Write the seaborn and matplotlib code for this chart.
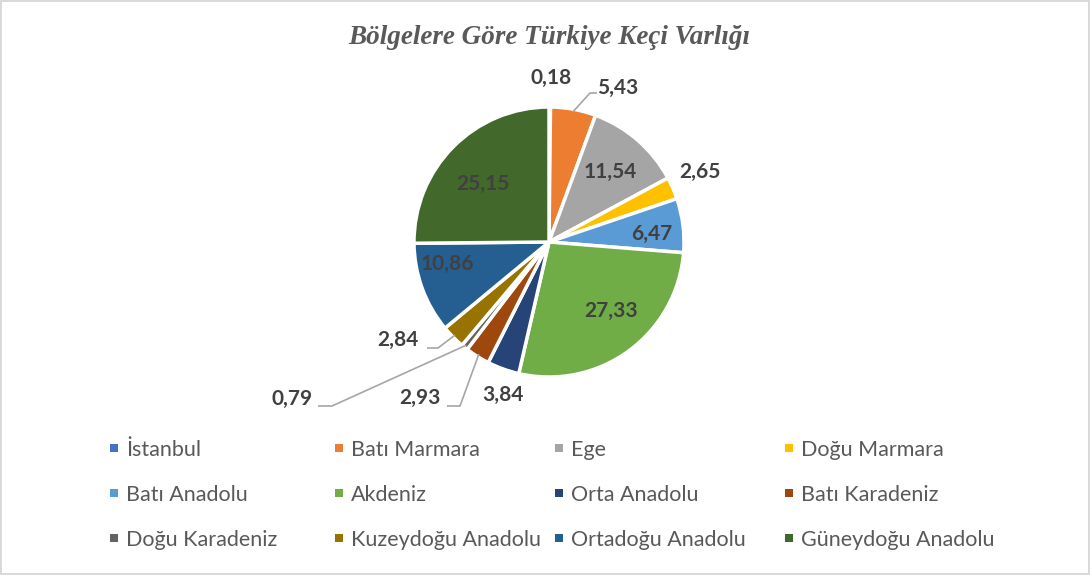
import matplotlib
matplotlib.use("Agg")
import matplotlib.pyplot as plt
import seaborn as sns
import numpy as np
from matplotlib.patches import Patch

# ---------------- data ----------------
regions = ["İstanbul", "Batı Marmara", "Ege", "Doğu Marmara",
           "Batı Anadolu", "Akdeniz", "Orta Anadolu", "Batı Karadeniz",
           "Doğu Karadeniz", "Kuzeydoğu Anadolu", "Ortadoğu Anadolu",
           "Güneydoğu Anadolu"]
values = [0.18, 5.43, 11.54, 2.65, 6.47, 27.33, 3.84, 2.93, 0.79, 2.84, 10.86, 25.15]
value_labels = ["0,18", "5,43", "11,54", "2,65", "6,47", "27,33", "3,84", "2,93",
                "0,79", "2,84", "10,86", "25,15"]
title = "Bölgelere Göre Türkiye Keçi Varlığı"

# ---------------- style ----------------
colors = ["#4472C4", "#ED7D31", "#A5A5A5", "#FFC000", "#5B9BD5", "#70AD47",
          "#264478", "#9E480E", "#636363", "#997300", "#255E91", "#43682B"]

sns.set_theme(style="white")
plt.rcParams["font.family"] = ["Lato", "DejaVu Sans"]

W, H = 1090, 575
fig = plt.figure(figsize=(W / 100, H / 100), dpi=100)
fig.patch.set_facecolor("white")
fig.patch.set_edgecolor("#D9D9D9")
fig.patch.set_linewidth(1.5)

# pie geometry (pixels)
cx, cy, R = 549, 242, 135
ax = fig.add_axes([(cx - R) / W, (H - cy - R) / H, 2 * R / W, 2 * R / H])

wedges, _ = ax.pie(values, colors=colors, startangle=90, counterclock=False,
                   radius=1.0, center=(0, 0),
                   wedgeprops=dict(edgecolor="white", linewidth=2.5))
ax.set_xlim(-1, 1)
ax.set_ylim(-1, 1)
ax.set_aspect("equal")
ax.axis("off")

def px(x, y):
    return ((x - cx) / R, (cy - y) / R)

label_color = "#404040"
# label placement: (text pixel position, ha, leader elbow pixel, leader end pixel)
placement = {
    0: ((551, 78), "center", None, None),
    1: ((597, 88), "left", (590, 93), (597, 93)),
    2: ((610, 172), "center", None, None),
    3: ((700, 172), "center", None, None),
    4: ((652, 234), "center", None, None),
    5: ((611, 311), "center", None, None),
    6: ((503, 395), "center", None, None),
    7: ((441, 398), "right", (460, 406), (447, 406)),
    8: ((313, 399), "right", (332, 406), (318, 406)),
    9: ((419, 340), "right", (438, 348), (427, 348)),
    10: ((447, 264), "center", None, None),
    11: ((483, 184), "center", None, None),
}

for i, w in enumerate(wedges):
    (tx, ty), ha, elbow, end = placement[i]
    x, y = px(tx, ty)
    ax.text(x, y, value_labels[i], ha=ha, va="center", fontsize=15,
            fontweight="bold", color=label_color)
    if elbow is not None:
        mid = np.deg2rad((w.theta1 + w.theta2) / 2)
        a0 = (w.r * 0.98 * np.cos(mid), w.r * 0.98 * np.sin(mid))
        e = px(*elbow)
        f = px(*end)
        ax.plot([a0[0], e[0], f[0]], [a0[1], e[1], f[1]], color="#A6A6A6",
                lw=1.2, clip_on=False, solid_capstyle="butt")

# title
fig.text(cx / W, 1 - 38 / H, title, ha="center", va="center",
         fontsize=19.5, fontweight="bold", fontstyle="italic",
         family=["Liberation Serif", "DejaVu Serif"], color="#595959")

# legend: 3 rows x 4 columns
col_x = [110, 335, 555, 785]
row_y = [450, 495, 540]
for i, name in enumerate(regions):
    r, c = divmod(i, 4)
    fig.legend(handles=[Patch(facecolor=colors[i], edgecolor="none")],
               labels=[name], loc="center left",
               bbox_to_anchor=(col_x[c] / W, 1 - row_y[r] / H),
               frameon=False, fontsize=15.5, handlelength=0.38,
               handleheight=0.21, handletextpad=0.38, borderpad=0,
               borderaxespad=0, labelcolor="#595959")

fig.savefig("out.png", dpi=100, facecolor=fig.get_facecolor(),
            edgecolor=fig.get_edgecolor())
